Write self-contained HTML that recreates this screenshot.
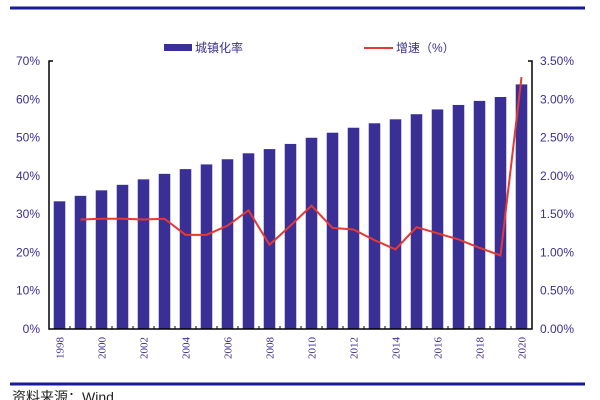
<!DOCTYPE html>
<html><head><meta charset="utf-8"><style>
body{margin:0;background:#fff;}
svg{display:block;font-family:"Liberation Sans","Noto Sans CJK SC",sans-serif;}
</style></head><body>
<svg width="600" height="400" viewBox="0 0 600 400">
<line x1="10" y1="8" x2="585" y2="8" stroke="#1a1a9c" stroke-width="3"/>
<line x1="10" y1="384" x2="585" y2="384" stroke="#1a1a9c" stroke-width="3"/>
<text x="12" y="402" font-size="14" fill="#222">资料来源：Wind</text>
<g>
<rect x="164" y="44" width="28" height="7" fill="#3a2f94"/>
<text x="195" y="52" font-size="12" fill="#3a2f94">城镇化率</text>
<line x1="364" y1="48" x2="393" y2="48" stroke="#e53935" stroke-width="2"/>
<text x="396" y="52" font-size="12" fill="#3a2f94">增速（%）</text>
</g>
<g id="plot"></g>
</svg>
<script>
const years=[1998,1999,2000,2001,2002,2003,2004,2005,2006,2007,2008,2009,2010,2011,2012,2013,2014,2015,2016,2017,2018,2019,2020];
const urbanRate=[33.35,34.78,36.22,37.66,39.09,40.53,41.76,42.99,44.34,45.89,46.99,48.34,49.95,51.27,52.57,53.73,54.77,56.10,57.35,58.52,59.58,60.60,63.89];
const growth=[null,1.43,1.44,1.44,1.43,1.44,1.23,1.23,1.35,1.55,1.10,1.35,1.61,1.32,1.30,1.16,1.04,1.33,1.25,1.17,1.06,0.96,3.29];
const leftTicks=["0%","10%","20%","30%","40%","50%","60%","70%"];
const rightTicks=["0.00%","0.50%","1.00%","1.50%","2.00%","2.50%","3.00%","3.50%"];
const NS="http://www.w3.org/2000/svg";
const g=document.getElementById('plot');
const L=49,R=532,T=61,B=329;
const yL=v=>B-(v/70)*(B-T);
const yR=v=>B-(v/3.5)*(B-T);
const step=(R-L)/years.length;
const xC=i=>L+step*(i+0.5);
function mk(t,a){const e=document.createElementNS(NS,t);for(const k in a)e.setAttribute(k,a[k]);g.appendChild(e);return e;}
leftTicks.forEach((t,i)=>{
 const e=mk('text',{x:L-9,y:yL(i*10)+4,'font-size':12,fill:'#3a2f94','text-anchor':'end'});e.textContent=t;
 
 
});
rightTicks.forEach((t,i)=>{
 const e=mk('text',{x:R+8,y:yR(i*0.5)+4,'font-size':12,fill:'#3a2f94'});e.textContent=t;
 
 
});
urbanRate.forEach((v,i)=>{
 const bw=step*0.55;
 const r=mk('rect',{x:xC(i)-bw/2,y:yL(v),width:bw,height:B-yL(v),fill:'#3a2f94'});
 
 
});
years.forEach((y,i)=>{
 if(i%2)return;
 const x=xC(i)+4,yy=B+8;
 const t=mk('text',{x:x,y:yy,'font-size':11,fill:'#3a2f94','font-family':'Liberation Serif, serif','text-anchor':'end',transform:`rotate(-90 ${x} ${yy})`});
 t.textContent=y;
 
 
});
const ax=mk('path',{d:`M${L+4},${T} H${L} V${B} H${R} V${T} H${R-4}`,fill:'none',stroke:'#000','stroke-width':1.5});


years.forEach((y,i)=>{
 const tk=mk('line',{x1:L+step*i,x2:L+step*i,y1:B,y2:B-3,stroke:'#000'});
 
 
});
let d='';
growth.forEach((v,i)=>{if(v==null)return;d+=(d?'L':'M')+xC(i)+','+yR(v);});
const ln=mk('path',{d:d,fill:'none',stroke:'#e53935','stroke-width':2});


</script>
</body></html>
